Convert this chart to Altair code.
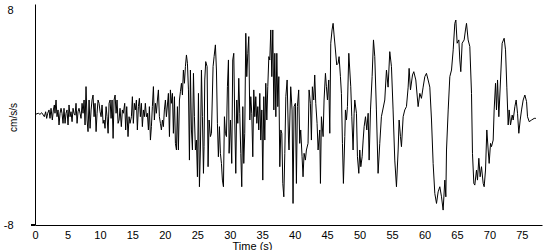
import altair as alt
import pandas as pd

# Time (s) and acceleration (cm/s/s) in segments
tA = [0.00,0.51,0.77,1.03,1.28,1.44,1.64,1.80,1.95,2.16,2.31,2.47,2.67,2.83,2.98,3.08,3.24,3.39,3.55,3.70,
      3.86,4.01,4.16,4.32,4.47,4.63,4.78,4.93,5.09,5.24,5.40,5.55,5.71,5.86,6.01,6.17,6.32,6.48,6.63,6.78,
      6.94,7.09,7.25,7.40,7.56,7.71,7.86,8.02,8.17,8.33,8.48,8.64,8.79,8.94,9.10,9.25,9.41,9.56,9.71,9.87,
      10.02,10.18,10.33,10.49,10.64,10.79,10.95,11.10,11.26,11.41,11.57,11.72,11.87,12.03,12.18,12.34,12.49,12.64,12.80,12.95]
vA = [0.0,0.09,0.01,0.13,-0.04,-0.16,0.20,-0.28,0.09,0.33,-0.28,0.45,-0.40,0.33,0.69,0.09,1.05,-0.16,0.33,-0.76,
      0.09,0.45,0.09,-0.64,0.45,-0.64,0.09,0.33,-0.76,0.69,-0.16,0.20,-0.52,0.45,0.09,-0.05,0.81,-0.64,0.20,0.45,
      0.09,-0.28,0.81,0.09,1.05,-0.76,2.02,-0.40,-1.24,1.05,-1.00,0.33,1.05,1.41,-0.16,0.81,-1.24,0.09,1.05,0.81,
      0.20,-0.16,0.69,-0.64,-0.40,-1.00,0.57,-0.16,-1.36,0.81,1.05,-0.28,1.05,-1.73,1.05,1.41,0.09,1.05,-0.64,-0.40]

tB = [13.10,13.30,13.46,13.61,13.82,13.97,14.13,14.33,14.49,14.64,14.85,15.00,15.15,15.31,15.46,15.62,15.77,15.93,16.08,16.23,
      16.39,16.54,16.70,16.85,17.00,17.16,17.31,17.47,17.62,17.78,17.93,18.08,18.24,18.39,18.55,18.70,18.86,19.01,19.16,19.32,
      19.47,19.63,19.78,19.93,20.09,20.24,20.40,20.55,20.71,20.86,21.01,21.17,21.32,21.48,21.63,21.79,21.94,22.09,22.25,22.40,
      22.56,22.71,22.86,23.02,23.17,23.33,23.48,23.64,23.79,23.94,24.10,24.25,24.41,24.56,24.71,24.87,25.02,25.18,25.33,25.48,
      25.64,25.79,25.95]
vB = [0.45,-0.88,0.33,0.09,0.81,-1.12,0.57,-1.60,-0.16,-0.64,-0.16,1.29,-0.64,0.81,0.33,1.05,-1.12,0.57,1.17,-0.16,
      0.81,-0.88,0.33,-0.16,0.81,-0.16,0.09,-1.12,0.57,-1.85,-0.88,0.57,2.02,-0.40,0.81,0.09,1.05,1.78,-0.16,-0.64,
      -1.12,-0.40,-0.88,0.33,1.05,-0.16,0.69,1.53,-1.60,1.78,0.81,1.53,-1.36,1.29,-2.09,-2.57,0.57,-2.57,1.05,1.65,
      2.26,1.41,3.22,2.26,3.47,4.31,3.71,1.78,-3.30,3.22,-1.12,-2.57,2.98,-0.16,-2.57,-1.85,-4.51,1.53,-5.23,-2.57,
      3.22,-0.16,-4.26]

tC = [26.04,26.15,26.30,26.51,26.66,26.82,27.02,27.18,27.43,27.59,27.79,27.95,28.10,28.25,28.41,28.56,28.72,28.87,29.03,29.18,
      29.33,29.49,29.64,29.80,29.90,30.11,30.31,30.46,30.62,30.77,30.93,31.08,31.24,31.39,31.54,31.70,31.85,32.01,32.16,32.31,
      32.47,32.62,32.78,32.93,33.09,33.24,33.39,33.55,33.70,33.86,34.01,34.17,34.32,34.47,34.63,34.78,34.94,35.09,35.24,35.40,
      35.55,35.71,35.86,36.02,36.17,36.32,36.48,36.63,36.79,36.94,37.10,37.25,37.40,37.56,37.71,37.87,38.02,38.17,38.33,38.48,
      38.64,38.84,39.05]
vC = [-2.33,2.50,3.83,3.47,-3.78,-0.40,-1.60,-1.36,3.47,4.19,5.04,3.22,-0.64,-3.06,-0.88,-2.81,-3.54,-4.75,-5.23,-0.16,
      -1.36,-1.60,2.01,3.95,-2.81,-0.40,-3.54,3.95,4.43,-0.40,-4.26,1.05,-0.64,2.62,0.09,-2.81,-5.23,0.57,-3.54,-1.36,
      5.88,2.74,4.43,5.64,-0.40,1.29,0.09,-3.06,1.78,-0.16,1.29,-0.64,0.57,-1.12,1.53,-1.85,0.33,-4.75,1.29,-1.85,
      2.26,-0.40,2.01,4.19,3.95,6.12,2.74,6.12,0.33,4.43,-0.16,4.43,0.57,2.74,-3.78,-1.12,-1.36,-4.99,-5.96,-2.81,
      1.29,2.50,-1.85]

tD = [39.13,39.39,39.60,39.75,39.91,40.11,40.27,40.42,40.62,40.78,40.93,41.14,41.29,41.45,41.65,41.81,42.06,42.22,42.42,42.58,
      42.73,42.94,43.09,43.25,43.45,43.61,43.86,43.97,44.12,44.38,44.53,44.74,44.89,45.05,45.25,45.41,45.56,45.76,45.92,46.07,
      46.28,46.48,46.69,46.84,47.05,47.20,47.36,47.51,47.72,47.82,47.98,48.13,48.34,48.49,48.64,48.80,49.00,49.16,49.26,49.52,
      49.67,49.88,50.03,50.19,50.39,50.55,50.70,50.91,51.11,51.32,51.47,51.68,51.93,52.14]
vD = [-2.57,2.01,0.33,-6.44,0.57,0.81,-4.99,0.57,1.78,-2.09,-1.12,-3.06,-4.51,-2.81,-3.30,-2.57,-2.09,1.78,0.81,-1.85,
      2.01,1.05,2.86,0.81,-0.64,-2.57,-1.12,-4.99,-0.16,-1.60,1.05,2.98,2.01,1.05,2.50,-1.36,5.16,6.12,6.60,5.76,
      4.67,3.59,3.71,4.19,2.74,1.53,-2.09,-4.99,-1.60,0.33,-0.40,0.57,4.43,3.22,2.01,-0.16,-2.57,0.09,1.05,0.09,
      -3.06,-4.26,-2.57,-3.78,-3.06,-1.85,-0.88,-0.16,-1.12,0.09,-3.30,0.33,2.74,5.40]

tE = [52.34,52.59,52.85,53.11,53.36,53.88,54.14,54.39,54.65,54.91,55.16,55.42,55.68,55.94,56.09,56.30,56.45,56.71,56.96,57.22,
      57.48,57.63,57.84,58.15,58.35,58.66,59.02,59.28,59.53,59.79,60.05,60.30,60.56,60.82,61.08,61.33,61.59,61.85,62.10,62.36,
      62.62,62.87,63.13,63.29,63.39,63.65,63.90,64.16,64.42,64.67,64.83,65.03,65.29,65.44]
vE = [4.19,0.33,-4.26,-2.09,-0.16,1.05,3.22,1.98,4.55,3.46,0.33,-3.30,-5.23,-2.57,-0.40,-1.60,-2.33,-0.16,0.33,0.57,
      1.98,3.34,1.78,2.86,3.10,2.50,0.57,1.53,1.17,1.98,2.74,2.98,2.50,1.98,-0.40,-3.54,-5.72,-6.44,-5.60,-5.23,
      -5.96,-6.92,-4.75,-5.96,-2.57,0.33,2.74,3.22,4.68,6.60,6.84,5.16,5.40,3.95]

tF = [65.59,65.80,66.11,66.31,66.47,66.72,66.98,67.24,67.39,67.60,67.75,68.01,68.16,68.37,68.57,68.78,69.04,69.19,69.40,69.60,
      69.81,69.96,70.17,70.32,70.58,70.73,70.94,71.09,71.25,71.45,71.71,71.96,72.27,72.48,72.68,72.89,73.04,73.25,73.51,73.66,
      73.92,74.12,74.33,74.53,74.74,74.95,75.20,75.46,75.72,75.87,76.13,76.49,76.90,77.16]
vF = [3.10,5.16,5.40,6.12,6.60,5.40,4.92,1.53,-2.81,-4.99,-5.11,-4.02,-4.75,-3.17,-4.51,-3.78,-4.99,-5.23,-4.02,-1.12,
      -2.57,-3.54,-2.09,-2.33,-1.85,0.33,2.26,0.33,2.50,-0.16,2.50,5.16,5.52,4.68,1.98,-0.76,0.33,-0.76,-0.04,-0.40,
      0.57,1.05,0.09,-1.36,-0.40,0.33,1.05,1.41,0.93,-0.16,-0.52,-0.40,-0.28,-0.28]

x_ticks = [0, 5, 10, 15, 20, 25, 30, 35, 40, 45, 50, 55, 60, 65, 70, 75]
y_ticks = [-8, 8]

rows = []
for ts, vs in [(tA, vA), (tB, vB), (tC, vC), (tD, vD), (tE, vE), (tF, vF)]:
    for t, v in zip(ts, vs):
        rows.append({"t": t, "a": v})
df = pd.DataFrame(rows)

FONT = "Liberation Sans"

line = alt.Chart(df).mark_line(color="black", strokeWidth=1).encode(
    x=alt.X("t:Q",
            scale=alt.Scale(domain=[0, 78.1], nice=False, zero=False),
            axis=alt.Axis(values=x_ticks, labelExpr="'' + datum.value", title="Time (s)", grid=False, ticks=False,
                          labelPadding=4, labelFont=FONT, labelFontSize=11, labelColor="black",
                          labelFlush=False, labelOverlap=False,
                          domainColor="black", domainWidth=1,
                          titleFont=FONT, titleFontSize=11, titleFontWeight="normal", titleColor="black",
                          titleX=217, titleY=15, titleAlign="center", titleBaseline="top")),
    y=alt.Y("a:Q",
            scale=alt.Scale(domain=[-8, 8], nice=False, zero=False),
            axis=alt.Axis(values=y_ticks, labelExpr="'' + datum.value", title="cm/s/s", grid=False, ticks=False,
                          labelPadding=22, labelAlign="right",
                          labelBaseline={"condition": {"test": "datum.value > 0", "value": "top"}, "value": "middle"},
                          labelFont=FONT, labelFontSize=11, labelColor="black",
                          labelFlush=False, labelOverlap=False,
                          domainColor="black", domainWidth=1,
                          titleFont=FONT, titleFontSize=10, titleFontWeight="normal", titleColor="black",
                          titleAngle=270, titleX=-22, titleY=113, titleAlign="center", titleBaseline="middle")),
)

ext = alt.Chart(df).mark_rule(color="black", strokeWidth=1).encode(
    x=alt.value(-4), x2=alt.value(0), y=alt.value(221)
)

chart = alt.layer(line, ext).properties(
    width=507, height=221,
    autosize=alt.AutoSizeParams(type="none"),
    padding={"left": 35, "top": 4, "right": 8, "bottom": 25},
    background="white",
).configure_view(stroke=None)

chart.save("out.html", embed_options={"renderer": "svg", "actions": False})
